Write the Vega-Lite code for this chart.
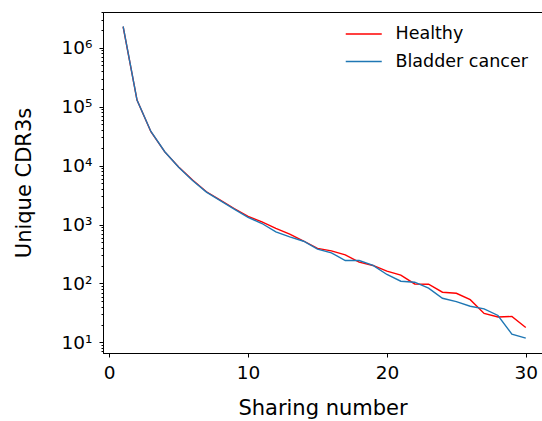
{
  "$schema": "https://vega.github.io/schema/vega-lite/v6.json",
  "autosize": {"type": "none"},
  "padding": {"left": 103, "top": 12, "right": 0, "bottom": 68},
  "width": 439,
  "height": 341,
  "background": "white",
  "config": {
    "view": {"stroke": "black", "strokeWidth": 1},
    "font": "DejaVu Sans",
    "axis": {
      "grid": false,
      "domainColor": "black",
      "tickColor": "black",
      "labelColor": "black",
      "titleColor": "black",
      "labelFont": "DejaVu Sans",
      "titleFont": "DejaVu Sans",
      "titleFontWeight": "normal",
      "labelFontSize": 18.5,
      "titleFontSize": 21
    },
    "legend": {"labelFont": "DejaVu Sans", "labelFontSize": 17.5, "labelColor": "black"}
  },
  "data": {
    "values": [
      {"n": 1, "v": 2270000, "group": "Healthy"},
      {"n": 2, "v": 129000, "group": "Healthy"},
      {"n": 3, "v": 37500, "group": "Healthy"},
      {"n": 4, "v": 17100, "group": "Healthy"},
      {"n": 5, "v": 9500, "group": "Healthy"},
      {"n": 6, "v": 5700, "group": "Healthy"},
      {"n": 7, "v": 3600, "group": "Healthy"},
      {"n": 8, "v": 2600, "group": "Healthy"},
      {"n": 9, "v": 1870, "group": "Healthy"},
      {"n": 10, "v": 1370, "group": "Healthy"},
      {"n": 11, "v": 1110, "group": "Healthy"},
      {"n": 12, "v": 860, "group": "Healthy"},
      {"n": 13, "v": 687, "group": "Healthy"},
      {"n": 14, "v": 525, "group": "Healthy"},
      {"n": 15, "v": 393, "group": "Healthy"},
      {"n": 16, "v": 357, "group": "Healthy"},
      {"n": 17, "v": 306, "group": "Healthy"},
      {"n": 18, "v": 230, "group": "Healthy"},
      {"n": 19, "v": 202, "group": "Healthy"},
      {"n": 20, "v": 162, "group": "Healthy"},
      {"n": 21, "v": 138, "group": "Healthy"},
      {"n": 22, "v": 98, "group": "Healthy"},
      {"n": 23, "v": 97, "group": "Healthy"},
      {"n": 24, "v": 71, "group": "Healthy"},
      {"n": 25, "v": 68, "group": "Healthy"},
      {"n": 26, "v": 53, "group": "Healthy"},
      {"n": 27, "v": 31, "group": "Healthy"},
      {"n": 28, "v": 27, "group": "Healthy"},
      {"n": 29, "v": 27.5, "group": "Healthy"},
      {"n": 30, "v": 17.9, "group": "Healthy"},
      {"n": 1, "v": 2300000, "group": "Bladder cancer"},
      {"n": 2, "v": 130000, "group": "Bladder cancer"},
      {"n": 3, "v": 38000, "group": "Bladder cancer"},
      {"n": 4, "v": 17200, "group": "Bladder cancer"},
      {"n": 5, "v": 9400, "group": "Bladder cancer"},
      {"n": 6, "v": 5600, "group": "Bladder cancer"},
      {"n": 7, "v": 3550, "group": "Bladder cancer"},
      {"n": 8, "v": 2550, "group": "Bladder cancer"},
      {"n": 9, "v": 1820, "group": "Bladder cancer"},
      {"n": 10, "v": 1320, "group": "Bladder cancer"},
      {"n": 11, "v": 1040, "group": "Bladder cancer"},
      {"n": 12, "v": 750, "group": "Bladder cancer"},
      {"n": 13, "v": 618, "group": "Bladder cancer"},
      {"n": 14, "v": 520, "group": "Bladder cancer"},
      {"n": 15, "v": 382, "group": "Bladder cancer"},
      {"n": 16, "v": 331, "group": "Bladder cancer"},
      {"n": 17, "v": 245, "group": "Bladder cancer"},
      {"n": 18, "v": 245, "group": "Bladder cancer"},
      {"n": 19, "v": 202, "group": "Bladder cancer"},
      {"n": 20, "v": 142, "group": "Bladder cancer"},
      {"n": 21, "v": 109, "group": "Bladder cancer"},
      {"n": 22, "v": 105, "group": "Bladder cancer"},
      {"n": 23, "v": 83, "group": "Bladder cancer"},
      {"n": 24, "v": 56, "group": "Bladder cancer"},
      {"n": 25, "v": 49, "group": "Bladder cancer"},
      {"n": 26, "v": 41, "group": "Bladder cancer"},
      {"n": 27, "v": 37, "group": "Bladder cancer"},
      {"n": 28, "v": 28.6, "group": "Bladder cancer"},
      {"n": 29, "v": 13.8, "group": "Bladder cancer"},
      {"n": 30, "v": 11.8, "group": "Bladder cancer"}
    ]
  },
  "mark": {"type": "line", "strokeWidth": 1.4, "clip": true},
  "encoding": {
    "x": {
      "field": "n",
      "type": "quantitative",
      "scale": {"domain": [-0.45, 31.17], "nice": false, "zero": false},
      "axis": {
        "title": "Sharing number",
        "values": [0, 10, 20, 30],
        "tickSize": 4,
        "labelPadding": 6,
        "titlePadding": 16
      }
    },
    "y": {
      "field": "v",
      "type": "quantitative",
      "scale": {"type": "log", "domain": [6.6, 4040000], "nice": false},
      "axis": {
        "title": "Unique CDR3s",
        "values": [7, 8, 9, 10, 20, 30, 40, 50, 60, 70, 80, 90, 100, 200, 300, 400, 500, 600, 700, 800, 900, 1000, 2000, 3000, 4000, 5000, 6000, 7000, 8000, 9000, 10000, 20000, 30000, 40000, 50000, 60000, 70000, 80000, 90000, 100000, 200000, 300000, 400000, 500000, 600000, 700000, 800000, 900000, 1000000, 2000000, 3000000, 4000000],
        "labelExpr": "abs(log(datum.value)/LN10 - round(log(datum.value)/LN10)) < 0.001 ? '10' + ['⁰','¹','²','³','⁴','⁵','⁶','⁷'][round(log(datum.value)/LN10)] : ''",
        "tickSize": {"condition": {"test": "abs(log(datum.value)/LN10 - round(log(datum.value)/LN10)) < 0.001", "value": 4}, "value": 2},
        "labelPadding": 7,
        "titlePadding": 27
      }
    },
    "color": {
      "field": "group",
      "type": "nominal",
      "sort": ["Healthy", "Bladder cancer"],
      "scale": {"domain": ["Healthy", "Bladder cancer"], "range": ["#ff0000", "#1f77b4"]},
      "legend": {
        "title": null,
        "orient": "none",
        "legendX": 252,
        "legendY": 13.25,
        "padding": 0,
        "symbolType": "M-2.77,0H2.77",
        "symbolSize": 169,
        "symbolStrokeWidth": 1.4,
        "labelOffset": 23,
        "rowPadding": 8.5
      }
    }
  }
}
